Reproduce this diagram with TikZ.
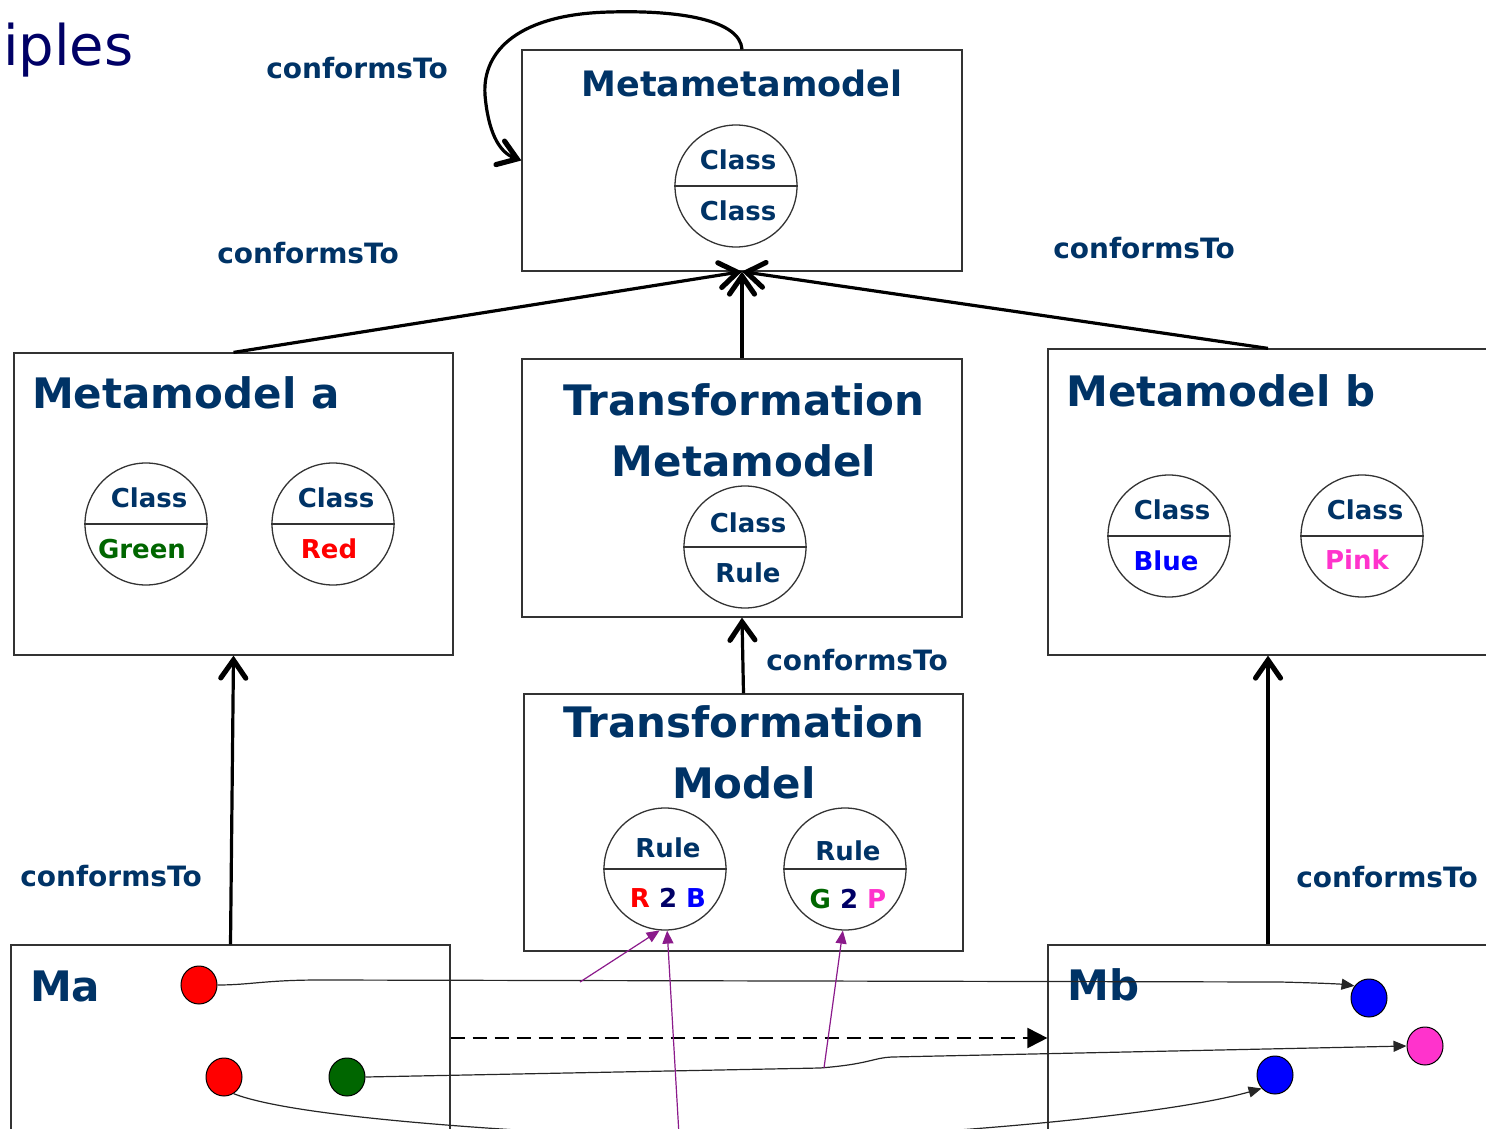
\documentclass[tikz,border=0pt]{standalone}
\usepackage{fontspec}
\setmainfont{DejaVu Sans}
\usetikzlibrary{shapes.geometric, arrows.meta}

\definecolor{ink}{HTML}{003366}
\definecolor{navy}{HTML}{000066}
\definecolor{darkgreen}{HTML}{006600}
\definecolor{pinkish}{HTML}{FF33CC}
\definecolor{tracepurple}{HTML}{8B1A8B}

\newcommand{\boxfont}{\fontsize{42}{50}\selectfont\bfseries}
\newcommand{\elemfont}{\fontsize{26}{30}\selectfont\bfseries}
\newcommand{\relfont}{\fontsize{28}{32}\selectfont\bfseries}

\tikzstyle{box} = [rectangle, draw=black!80, line width=1.2pt, inner sep=0pt]
\tikzstyle{boxtitle} = [font=\boxfont, text=ink, inner sep=0pt]
\tikzstyle{elem} = [circle, draw=black!80, line width=1.3pt, minimum size=122pt, inner sep=0pt]
\tikzstyle{elemtext} = [font=\elemfont, text=ink, inner sep=0pt]
\tikzstyle{relation} = [font=\relfont, text=ink, inner sep=0pt]
\tikzstyle{arrow} = [line width=3.2pt, -{Straight Barb[length=18pt,width=25pt,line width=0pt 1.6,line cap=round]}]
\tikzstyle{dot} = [ellipse, draw=black, line width=1pt, minimum width=36pt, minimum height=38pt, inner sep=0pt]
\tikzstyle{link} = [line width=1.2pt, draw=black!85, -{Triangle[length=13pt,width=11pt]}]
\tikzstyle{trace} = [line width=1.2pt, draw=tracepurple, -{Triangle[length=13pt,width=11pt]}]
\tikzstyle{mapping} = [line width=2pt, dash pattern=on 14pt off 8pt, -{Triangle[length=20pt,width=20pt]}]

\begin{document}
\begin{tikzpicture}[x=1pt, y=-1pt]
  \useasboundingbox (0,0) rectangle (1486,1129);
  \clip (0,0) rectangle (1486,1129);

  \node (heading) [anchor=west, font=\fontsize{56}{60}\selectfont, text=navy, inner sep=0pt] at (3,50) {iples};

  % boxes
  \node (mmm) [box, minimum width=440pt, minimum height=221pt] at (742,160.5) {};
  \node (mma) [box, minimum width=439pt, minimum height=302pt] at (233.5,504) {};
  \node (tmm) [box, minimum width=440pt, minimum height=258pt] at (742,488) {};
  \node (mmb) [box, minimum width=440pt, minimum height=306pt] at (1268,502) {};
  \node (tm) [box, minimum width=439pt, minimum height=257pt] at (743.5,822.5) {};
  \node (ma) [box, minimum width=439pt, minimum height=186pt] at (230.5,1038) {};
  \node (mb) [box, minimum width=440pt, minimum height=186pt] at (1268,1038) {};

  % box titles
  \node (mmmtitle) [boxtitle, font=\fontsize{35}{40}\selectfont\bfseries] at (742,83) {Metametamodel};
  \node (mmatitle) [boxtitle, anchor=west] at (32,393) {Metamodel a};
  \node (mmbtitle) [boxtitle, anchor=west] at (1066,391) {Metamodel b};
  \node (tmmtitle1) [boxtitle] at (744,400) {Transformation};
  \node (tmmtitle2) [boxtitle] at (744,461) {Metamodel};
  \node (tmtitle1) [boxtitle] at (744,722) {Transformation};
  \node (tmtitle2) [boxtitle] at (744,783) {Model};
  \node (matitle) [boxtitle, anchor=west] at (30,986) {Ma};
  \node (mbtitle) [boxtitle, anchor=west] at (1067,985) {Mb};

  % class and rule elements
  \node (cls) [elem] at (736,186) {};
  \draw [black!80, line width=1.3pt] (cls.west) -- (cls.east);
  \node [elemtext] at (738,160) {Class};
  \node [elemtext] at (738,211) {Class};

  \node (green) [elem] at (146,524) {};
  \draw [black!80, line width=1.3pt] (green.west) -- (green.east);
  \node [elemtext] at (149,498) {Class};
  \node [elemtext, text=darkgreen] at (142,549) {Green};

  \node (red) [elem] at (333,524) {};
  \draw [black!80, line width=1.3pt] (red.west) -- (red.east);
  \node [elemtext] at (336,498) {Class};
  \node [elemtext, text=red] at (329,549) {Red};

  \node (rule) [elem] at (745,547) {};
  \draw [black!80, line width=1.3pt] (rule.west) -- (rule.east);
  \node [elemtext] at (748,523) {Class};
  \node [elemtext] at (748,573) {Rule};

  \node (blue) [elem] at (1169,536) {};
  \draw [black!80, line width=1.3pt] (blue.west) -- (blue.east);
  \node [elemtext] at (1172,510) {Class};
  \node [elemtext, text=blue] at (1166,561) {Blue};

  \node (pink) [elem] at (1362,536) {};
  \draw [black!80, line width=1.3pt] (pink.west) -- (pink.east);
  \node [elemtext] at (1365,510) {Class};
  \node [elemtext, text=pinkish] at (1357,560) {Pink};

  \node (r2b) [elem] at (665,869) {};
  \draw [black!80, line width=1.3pt] (r2b.west) -- (r2b.east);
  \node [elemtext] at (668,848) {Rule};
  \node [elemtext] at (668,898) {\color{red}R \color{navy}2 \color{blue}B};

  \node (g2p) [elem] at (845,869) {};
  \draw [black!80, line width=1.3pt] (g2p.west) -- (g2p.east);
  \node [elemtext] at (848,851) {Rule};
  \node [elemtext] at (848,899) {\color{darkgreen}G \color{navy}2 \color{pinkish}P};

  % model elements
  \node (redA) [dot, fill=red] at (199,985) {};
  \node (redB) [dot, fill=red] at (224,1077) {};
  \node (greenA) [dot, fill=darkgreen] at (347,1077) {};
  \node (blueA) [dot, fill=blue] at (1369,998) {};
  \node (pinkA) [dot, fill=pinkish] at (1425,1046) {};
  \node (blueB) [dot, fill=blue] at (1275,1075) {};

  % conformsTo relations
  \draw [arrow] (mmm.north) .. controls (740,20) and (680,10) .. (610,12)
    .. controls (520,14) and (482,50) .. (485,95)
    .. controls (488,130) and (498,152) .. (mmm.west);
  \draw [arrow] (mma.north) -- (mmm.south);
  \draw [arrow] (tmm.north) -- (mmm.south);
  \draw [arrow] (mmb.north) -- (mmm.south);
  \draw [arrow] (tm.north) -- (tmm.south);
  \draw [arrow] (ma.north) -- (mma.south);
  \draw [arrow] (mb.north) -- (mmb.south);

  \node (conf1) [relation] at (357,68) {conformsTo};
  \node (conf2) [relation] at (308,253) {conformsTo};
  \node (conf3) [relation] at (1144,248) {conformsTo};
  \node (conf4) [relation] at (857,660) {conformsTo};
  \node (conf5) [relation] at (111,876) {conformsTo};
  \node (conf6) [relation] at (1387,877) {conformsTo};

  % transformation of Ma into Mb
  \draw [mapping] (ma.east) -- (mb.west);
  \draw [link] (redA.east) .. controls (250,985) and (265,980) .. (320,980)
    -- (1280,982) .. controls (1320,983) and (1340,984) .. (blueA.140);
  \draw [link] (greenA.east) -- (820,1068) .. controls (870,1064) and (872,1058) .. (892,1057)
    -- (pinkA.west);
  \draw [link] (redB.300) .. controls (300,1120) and (560,1135) .. (740,1140)
    .. controls (860,1140) and (1150,1120) .. (blueB.225);

  % traces to the rules
  \coordinate (tr1) at (580,982);
  \coordinate (tr2) at (679,1135);
  \coordinate (tr3) at (824,1068);
  \draw [trace] (tr1) -- (r2b.265);
  \draw [trace] (tr2) -- (r2b.272);
  \draw [trace] (tr3) -- (g2p.268);
\end{tikzpicture}
\end{document}
